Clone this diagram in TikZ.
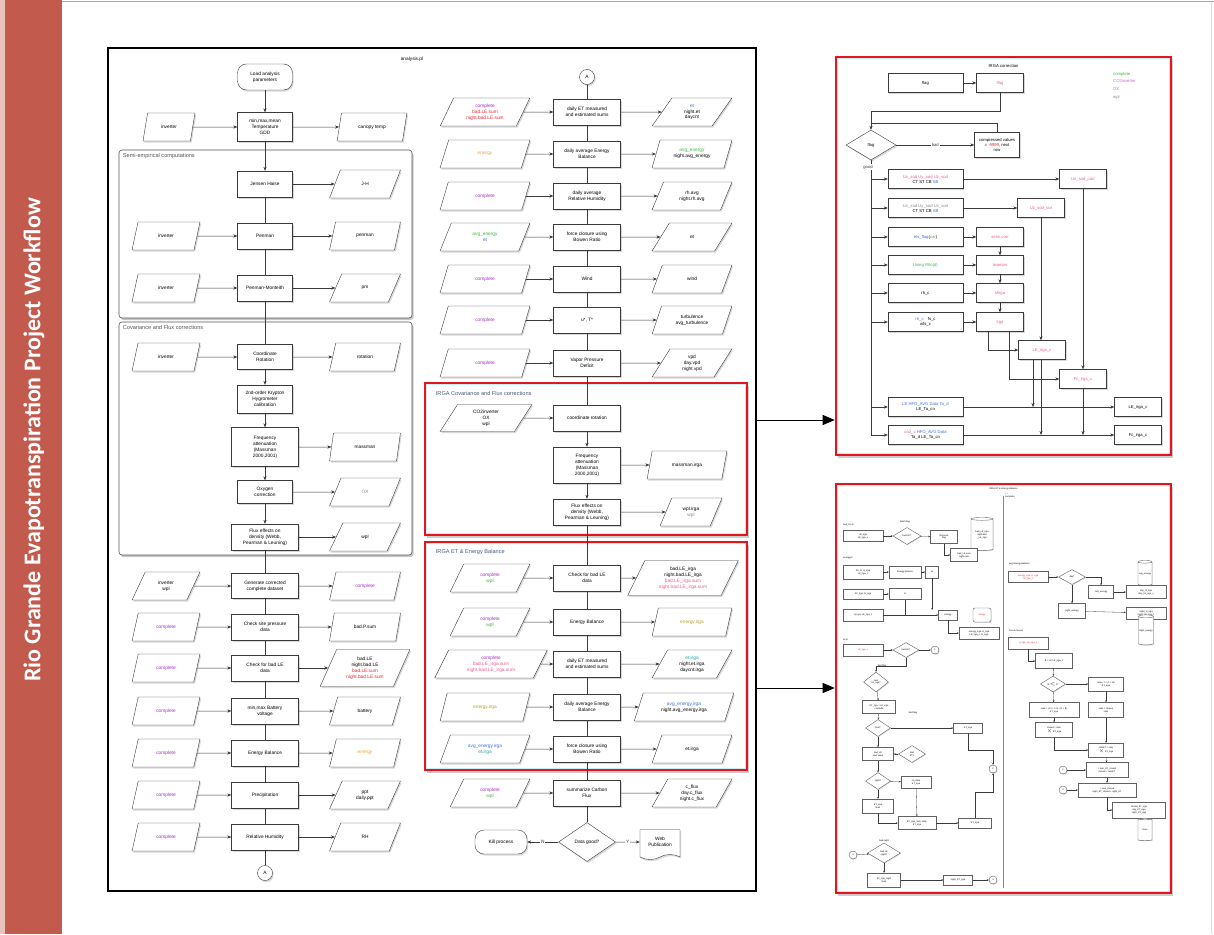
\documentclass[tikz,border=0pt]{standalone}
\usepackage{fontspec}
\setmainfont{Liberation Sans}
\newfontfamily\sidefont{Carlito}
\usepackage{xcolor}
\definecolor{ink}{HTML}{3A3A3A}
\definecolor{barRed}{HTML}{C25A4D}
\definecolor{barEdge}{HTML}{E9C3BD}
\definecolor{frameRed}{HTML}{E3161E}
\definecolor{innerCyan}{HTML}{C4EEF4}
\definecolor{cComplete}{HTML}{A62FC4}
\definecolor{cBad}{HTML}{E8262E}
\definecolor{cEnergy}{HTML}{F2A23A}
\definecolor{cAvg}{HTML}{3DB84A}
\definecolor{cEt}{HTML}{3F6FE0}
\definecolor{cWpl}{HTML}{4BAA45}
\definecolor{cPink}{HTML}{EE5C8E}
\definecolor{cOlive}{HTML}{B3A62A}
\definecolor{cTeal}{HTML}{1FA3A3}
\definecolor{cGrey}{HTML}{8A8A8A}
\definecolor{cSect}{HTML}{555555}
\definecolor{cIrga}{HTML}{4A5A78}
\usepackage{tikz}
\usetikzlibrary{arrows.meta,positioning,shapes.geometric,shapes.symbols,shadows,backgrounds}
\newcommand\flowfont{\fontsize{4.8}{5.9}\selectfont}
\newcommand\corrfont{\fontsize{4.2}{5}\selectfont}
\newcommand\microfont{\fontsize{2.3}{2.8}\selectfont}
\tikzset{>={Stealth[length=4pt,width=3.2pt]},
  dropsh/.style={drop shadow={shadow xshift=1.2pt,shadow yshift=-1.6pt,opacity=.3}},
  proc/.style={draw=ink,fill=white,dropsh,align=center,font=\flowfont,minimum width=55,
    minimum height=26,inner sep=1pt},
  wproc/.style={proc,minimum width=67},
  dat/.style={trapezium,trapezium left angle=64,trapezium right angle=116,trapezium stretches=true,
    draw=ink,fill=white,dropsh,align=center,font=\flowfont,minimum width=68,minimum height=28,inner sep=0pt},
  term/.style={proc,rounded corners=9pt},
  conn/.style={circle,draw=ink,fill=white,dropsh,font=\flowfont,minimum size=15,inner sep=0pt},
  decide/.style={diamond,aspect=1.5,draw=ink,fill=white,dropsh,font=\flowfont,inner sep=0pt,
    minimum width=57,minimum height=39},
  webdoc/.style={tape,tape bend top=none,draw=ink,fill=white,dropsh,align=center,font=\flowfont,
    minimum width=40,minimum height=30,inner sep=1pt},
  sect/.style={draw=cSect,fill=white,rounded corners=3pt,semithick,
    drop shadow={shadow xshift=1.5pt,shadow yshift=-2pt,opacity=.45}},
  secttitle/.style={anchor=north west,font=\fontsize{5.6}{6.5}\selectfont,text=cSect,inner sep=0pt},
  redframe/.style={draw=frameRed,line width=2.6pt,fill=white,
    drop shadow={shadow xshift=1.5pt,shadow yshift=-2.5pt,opacity=.4}},
  bigarr/.style={-{Triangle[length=12pt,width=10pt]},black,line width=.7pt},
  cbox/.style={draw=ink,fill=white,dropsh,align=center,font=\corrfont,minimum width=75,
    minimum height=19,inner sep=1pt},
  sbox/.style={cbox,minimum width=47},
  cdia/.style={diamond,aspect=1.7,draw=ink,fill=white,dropsh,font=\corrfont,inner sep=0pt,
    minimum width=50,minimum height=30},
  mbox/.style={draw=ink!80,fill=white,align=center,font=\microfont,inner sep=.6pt,
    drop shadow={shadow xshift=.6pt,shadow yshift=-.8pt,opacity=.3}},
  mdia/.style={mbox,diamond,aspect=1.6,inner sep=0pt},
  mcirc/.style={mbox,circle,minimum size=8,inner sep=0pt},
  mcyl/.style={mbox,cylinder,shape border rotate=90,aspect=.2},
  mflow/.style={->,>={Stealth[length=2pt,width=1.7pt]},ink,line width=.3pt},
  mlbl/.style={font=\microfont,inner sep=0pt},
  lbl/.style={font=\flowfont,fill=white,inner sep=1pt}}

\begin{document}
\begin{tikzpicture}[x=1pt,y=-1pt]
  \useasboundingbox (0,0) rectangle (1214,934);
  \fill[white] (0,0) rectangle (1214,934);
  \fill[barEdge] (0,0) rectangle (5,934);
  \fill[barRed] (5,0) rectangle (62,934);
  \draw[cBad!55,line width=.8pt] (62,1.5) -- (1214,1.5);
  \draw[cBad!20,line width=.6pt] (1211,2) -- (1211,934);
  \node[rotate=90,text=white,font=\sidefont\bfseries\fontsize{24}{28}\selectfont] (title) at (34,440)
    {Rio Grande Evapotranspiration Project Workflow};

  % analysis.pl frame and its groups
  \node[draw=black,line width=2.2pt,minimum width=648,minimum height=843,inner sep=0pt] (analysis) at (432,469.5) {};
  \node[font=\flowfont] at (412,59) {analysis.pl};
  \node[sect,minimum width=293,minimum height=168] (semi) at (265.5,234) {};
  \node[secttitle] at ([xshift=4pt,yshift=-4pt]semi.north west) {Semi-empirical computations};
  \node[sect,minimum width=293,minimum height=233] (cov) at (265.5,438.5) {};
  \node[secttitle] at ([xshift=4pt,yshift=-4pt]cov.north west) {Covariance and Flux corrections};
  \node[redframe,minimum width=322,minimum height=152] (irgacov) at (586,459) {};
  \draw[innerCyan,line width=.6pt] ([shift={(3,3)}]irgacov.north west) rectangle ([shift={(-3,-3)}]irgacov.south east);
  \node[secttitle,text=cIrga] at ([xshift=12pt,yshift=-10pt]irgacov.north west) {IRGA Covariance and Flux corrections};
  \node[redframe,minimum width=322,minimum height=228] (irgaet) at (586,656) {};
  \draw[innerCyan,line width=.6pt] ([shift={(3,3)}]irgaet.north west) rectangle ([shift={(-3,-3)}]irgaet.south east);
  \node[secttitle,text=cIrga] at ([xshift=12pt,yshift=-9pt]irgaet.north west) {IRGA ET \& Energy Balance};

  % left column
  \node[term] (load) at (265,77) {Load analysis\\parameters};
  \node[proc,minimum height=29] (temp) at (265,127) {min,max,mean\\Temperature\\GDD};
  \node[dat,minimum width=52] (tempin) at (169,127) {inverter};
  \node[dat,minimum width=70] (tempout) at (372,127) {canopy temp};
  \node[proc] (jh) at (265,184) {Jensen Haise};
  \node[dat,minimum width=71] (jhout) at (365,184) {J-H};
  \node[proc] (pen) at (265,236) {Penman};
  \node[dat] (penin) at (166,236) {inverter};
  \node[dat,minimum width=71] (penout) at (365,236) {penman};
  \node[proc] (pm) at (265,288) {Penman-Monteith};
  \node[dat] (pmin) at (166,288) {inverter};
  \node[dat,minimum width=71] (pmout) at (365,288) {pm};
  \node[proc,minimum height=25] (rot) at (265,357) {Coordinate\\Rotation};
  \node[dat] (rotin) at (166,357) {inverter};
  \node[dat,minimum width=71] (rotout) at (365,357) {rotation};
  \node[proc,minimum height=28] (kh) at (265,399) {2nd-order Krypton\\Hygrometer\\calibration};
  \node[wproc,minimum height=39] (freq) at (265,447) {Frequency\\attenuation\\(Massman\\2000,2001)};
  \node[dat,minimum width=71] (freqout) at (365,447) {massman};
  \node[proc,minimum height=23] (oxy) at (265,492) {Oxygen\\correction};
  \node[dat,minimum width=71] (oxyout) at (365,492) {\textcolor{cGrey}{OX}};
  \node[wproc] (webb) at (265,537) {Flux effects on\\density (Webb,\\Pearman \& Leuning)};
  \node[dat,minimum width=71] (webbout) at (365,537) {wpl};
  \node[wproc,minimum height=25] (gen) at (265,586) {Generate corrected\\complete dataset};
  \node[dat] (genin) at (166,586) {inverter\\wpl};
  \node[dat,minimum width=71] (genout) at (365,586) {\textcolor{cComplete}{complete}};
  \node[wproc] (pres) at (265,627) {Check site pressure\\data};
  \node[dat] (presin) at (166,627) {\textcolor{cComplete}{complete}};
  \node[dat,minimum width=71] (presout) at (365,627) {bad.P.sum};
  \node[wproc] (badle) at (265,668) {Check for bad LE\\data};
  \node[dat] (badlein) at (166,668) {\textcolor{cComplete}{complete}};
  \node[dat,minimum width=90,minimum height=37] (badleout) at (365,668)
    {bad.LE\\night.bad.LE\\\textcolor{cBad}{bad.LE.sum}\\\textcolor{cBad}{night.bad.LE.sum}};
  \node[wproc] (batt) at (265,711) {min,max Battery\\voltage};
  \node[dat] (battin) at (166,711) {\textcolor{cComplete}{complete}};
  \node[dat,minimum width=71] (battout) at (365,711) {battery};
  \node[wproc] (eb) at (265,753) {Energy Balance};
  \node[dat] (ebin) at (166,753) {\textcolor{cComplete}{complete}};
  \node[dat,minimum width=71] (ebout) at (365,753) {\textcolor{cEnergy}{energy}};
  \node[wproc] (ppt) at (265,795) {Precipitation};
  \node[dat] (pptin) at (166,795) {\textcolor{cComplete}{complete}};
  \node[dat,minimum width=71] (pptout) at (365,795) {ppt\\daily.ppt};
  \node[wproc] (rh) at (265,837) {Relative Humidity};
  \node[dat] (rhin) at (166,837) {\textcolor{cComplete}{complete}};
  \node[dat,minimum width=71] (rhout) at (365,837) {RH};
  \node[conn] (toa) at (265,873) {A};

  % middle column
  \node[conn] (froma) at (587,77) {A};
  \node[wproc] (etsum) at (587,112) {daily ET measured\\and estimated sums};
  \node[dat,minimum width=90] (etsumin) at (485,112)
    {\textcolor{cComplete}{complete}\\\textcolor{cBad}{bad.LE.sum}\\\textcolor{cBad}{night.bad.LE.sum}};
  \node[dat,minimum width=80] (etsumout) at (692,112) {\textcolor{cEt}{et}\\night.et\\daycnt};
  \node[wproc] (avgeb) at (587,154) {daily average Energy\\Balance};
  \node[dat,minimum width=90] (avgebin) at (485,154) {\textcolor{cEnergy}{energy}};
  \node[dat,minimum width=80] (avgebout) at (692,154) {\textcolor{cAvg}{avg\_energy}\\night.avg\_energy};
  \node[wproc] (avgrh) at (587,196) {daily average\\Relative Humidity};
  \node[dat,minimum width=90] (avgrhin) at (485,196) {\textcolor{cComplete}{complete}};
  \node[dat,minimum width=80] (avgrhout) at (692,196) {rh.avg\\night.rh.avg};
  \node[wproc] (bowen) at (587,237) {force closure using\\Bowen Ratio};
  \node[dat,minimum width=90] (bowenin) at (485,237) {\textcolor{cAvg}{avg\_energy}\\\textcolor{cEt}{et}};
  \node[dat,minimum width=80] (bowenout) at (692,237) {et};
  \node[wproc] (wind) at (587,279) {Wind};
  \node[dat,minimum width=90] (windin) at (485,279) {\textcolor{cComplete}{complete}};
  \node[dat,minimum width=80] (windout) at (692,279) {wind};
  \node[wproc] (turb) at (587,320) {u*, T*};
  \node[dat,minimum width=90] (turbin) at (485,320) {\textcolor{cComplete}{complete}};
  \node[dat,minimum width=80] (turbout) at (692,320) {turbulence\\avg\_turbulence};
  \node[wproc] (vpd) at (587,363) {Vapor Pressure\\Deficit};
  \node[dat,minimum width=90] (vpdin) at (485,363) {\textcolor{cComplete}{complete}};
  \node[dat,minimum width=80] (vpdout) at (692,363) {vpd\\day.vpd\\night.vpd};
  \node[wproc] (irot) at (587,418) {coordinate rotation};
  \node[dat,minimum width=92,minimum height=27] (irotin) at (486,418) {CO2inverter\\OX\\wpl};
  \node[wproc,minimum height=36] (ifreq) at (587,465) {Frequency\\attenuation\\(Massman\\2000,2001)};
  \node[dat,minimum width=80] (ifreqout) at (687,465) {massman.irga};
  \node[wproc] (iwebb) at (587,512) {Flux effects on\\density (Webb,\\Pearman \& Leuning)};
  \node[dat,minimum width=62] (iwebbout) at (691,512) {wpl.irga\\\textcolor{cGrey}{wpl}};
  \node[wproc] (ibad) at (587,578) {Check for bad LE\\data};
  \node[dat,minimum width=80] (ibadin) at (490,578) {\textcolor{cComplete}{complete}\\\textcolor{cWpl}{wpl}};
  \node[dat,minimum width=111,minimum height=35] (ibadout) at (683,578)
    {bad.LE\_irga\\night.bad.LE\_irga\\\textcolor{cPink}{bad.LE\_irga.sum}\\\textcolor{cPink}{night.bad.LE\_irga.sum}};
  \node[wproc] (ieb) at (587,622) {Energy Balance};
  \node[dat,minimum width=80] (iebin) at (490,622) {\textcolor{cComplete}{complete}\\\textcolor{cWpl}{wpl}};
  \node[dat,minimum width=80] (iebout) at (692,622) {\textcolor{cOlive}{energy.irga}};
  \node[wproc] (iet) at (587,664) {daily ET measured\\and estimated sums};
  \node[dat,minimum width=113] (ietin) at (491,664)
    {\textcolor{cComplete}{complete}\\\textcolor{cPink}{bad.LE\_irga.sum}\\\textcolor{cPink}{night.bad.LE\_irga.sum}};
  \node[dat,minimum width=80] (ietout) at (692,664) {\textcolor{cTeal}{et.irga}\\night.et.irga\\daycnt.irga};
  \node[wproc] (iavg) at (587,707) {daily average Energy\\Balance};
  \node[dat,minimum width=90] (iavgin) at (485,707) {\textcolor{cOlive}{energy.irga}};
  \node[dat,minimum width=100] (iavgout) at (684,707) {\textcolor{cEt}{avg\_energy.irga}\\night.avg\_energy.irga};
  \node[wproc] (ibowen) at (587,749) {force closure using\\Bowen Ratio};
  \node[dat,minimum width=90] (ibowenin) at (485,749) {\textcolor{cEt}{avg\_energy.irga}\\\textcolor{cTeal}{et.irga}};
  \node[dat,minimum width=80] (ibowenout) at (692,749) {et.irga};
  \node[wproc] (carbon) at (587,793) {summarize Carbon\\Flux};
  \node[dat,minimum width=80] (carbonin) at (490,793) {\textcolor{cComplete}{complete}\\\textcolor{cWpl}{wpl}};
  \node[dat,minimum width=80] (carbonout) at (692,793) {c\_flux\\day.c\_flux\\night.c\_flux};
  \node[decide] (dgood) at (587,842) {Data good?};
  \node[term,minimum width=52,minimum height=24] (kill) at (501,842) {Kill process};
  \node[webdoc] (web) at (660,842) {Web\\Publication};

  \begin{scope}[ink,line width=.5pt]
  \draw[->](load)--(temp);\draw[->](tempin)--(temp);\draw[->](temp)--(tempout);\draw[->](temp)--(jh);
  \draw[->](jh)--(jhout);\draw(jh)--(pen);\draw[->](penin)--(pen);\draw[->](pen)--(penout);
  \draw(pen)--(pm);\draw[->](pmin)--(pm);\draw[->](pm)--(pmout);\draw(pm)--(rot);
  \draw[->](rotin)--(rot);\draw[->](rot)--(rotout);\draw[->](rot)--(kh);\draw[->](kh)--(freq);
  \draw[->](freq)--(freqout);\draw[->](freq)--(oxy);\draw[->](oxy)--(oxyout);\draw[->](oxy)--(webb);
  \draw[->](webb)--(webbout);\draw(webb)--(gen);\draw[->](genin)--(gen);\draw[->](gen)--(genout);
  \draw(gen)--(pres);\draw[->](presin)--(pres);\draw[->](pres)--(presout);\draw(pres)--(badle);
  \draw[->](badlein)--(badle);\draw[->](badle)--(badleout);\draw(badle)--(batt);\draw[->](battin)--(batt);
  \draw[->](batt)--(battout);\draw(batt)--(eb);\draw[->](ebin)--(eb);\draw[->](eb)--(ebout);
  \draw(eb)--(ppt);\draw[->](pptin)--(ppt);\draw[->](ppt)--(pptout);\draw(ppt)--(rh);
  \draw[->](rhin)--(rh);\draw[->](rh)--(rhout);\draw(rh)--(toa);

  \draw(froma)--(etsum);\draw[->](etsumin)--(etsum);\draw[->](etsum)--(etsumout);\draw(etsum)--(avgeb);
  \draw[->](avgebin)--(avgeb);\draw[->](avgeb)--(avgebout);\draw(avgeb)--(avgrh);\draw[->](avgrhin)--(avgrh);
  \draw[->](avgrh)--(avgrhout);\draw(avgrh)--(bowen);\draw[->](bowenin)--(bowen);\draw[->](bowen)--(bowenout);
  \draw(bowen)--(wind);\draw[->](windin)--(wind);\draw[->](wind)--(windout);\draw(wind)--(turb);
  \draw[->](turbin)--(turb);\draw[->](turb)--(turbout);\draw(turb)--(vpd);\draw[->](vpdin)--(vpd);
  \draw[->](vpd)--(vpdout);\draw(vpd)--(irot);\draw[->](irotin)--(irot);\draw[->](irot)--(ifreq);
  \draw[->](ifreq)--(ifreqout);\draw[->](ifreq)--(iwebb);\draw[->](iwebb)--(iwebbout);\draw(iwebb)--(ibad);
  \draw[->](ibadin)--(ibad);\draw[->](ibad)--(ibadout);\draw(ibad)--(ieb);\draw[->](iebin)--(ieb);
  \draw[->](ieb)--(iebout);\draw(ieb)--(iet);\draw[->](ietin)--(iet);\draw[->](iet)--(ietout);
  \draw(iet)--(iavg);\draw[->](iavgin)--(iavg);\draw[->](iavg)--(iavgout);\draw(iavg)--(ibowen);
  \draw[->](ibowenin)--(ibowen);\draw[->](ibowen)--(ibowenout);\draw(ibowen)--(carbon);
  \draw[->](carbonin)--(carbon);\draw[->](carbon)--(carbonout);\draw(carbon)--(dgood);
  \draw[->](dgood)--node[lbl]{N}(kill);\draw[->](dgood)--node[lbl]{Y}(web);
  \end{scope}

  % links to the detail panels
  \node[redframe,minimum width=335,minimum height=398] (corr) at (1003.5,256) {};
  \draw[innerCyan,line width=.6pt] ([shift={(3,3)}]corr.north west) rectangle ([shift={(-3,-3)}]corr.south east);
  \node[redframe,minimum width=335,minimum height=409] (etdet) at (1003.5,688.5) {};
  \draw[innerCyan,line width=.6pt] ([shift={(3,3)}]etdet.north west) rectangle ([shift={(-3,-3)}]etdet.south east);
  \coordinate (covlink) at (analysis.east |- 0,420);
  \coordinate (etlink) at (analysis.east |- 0,688);
  \draw[bigarr] (covlink) -- (covlink -| corr.west);
  \draw[bigarr] (etlink) -- (etlink -| etdet.west);

  % IRGA correction
  \node[font=\corrfont] at (1003.5,66) {IRGA correction};
  \node[anchor=north west,align=left,inner sep=0pt,font=\fontsize{4.2}{7.6}\selectfont] (legend) at (1113,72)
    {\textcolor{cAvg}{complete}\\\textcolor{cComplete!70}{CO2inverter}\\\textcolor{cGrey}{OX}\\\textcolor{cGrey}{wpl}};
  \node[cbox] (flagin) at (925.5,83) {flag};
  \node[sbox] (flagred) at (1000,83) {\textcolor{cPink}{flag}};
  \node[cdia] (dflag) at (871,145) {flag};
  \node[sbox,minimum width=45,minimum height=25] (comp) at (997,145)
    {compressed values\\= \textcolor{cBad}{-9999}, next\\row};
  \node[cbox] (c1) at (925.5,179) {\textcolor{cPink}{Ux\_sod Uy\_sod Uz\_sod}\\CT ST CB \textcolor{cEt}{SB}};
  \node[cbox] (c2) at (925.5,208) {\textcolor{cGrey}{Ux\_sod Uy\_sod Uz\_sod}\\CT ST CB \textcolor{cEt}{SB}};
  \node[cbox] (c3) at (925.5,237) {\textcolor{cEt}{ets\_flag}(\textcolor{cAvg}{var})};
  \node[cbox] (c4) at (925.5,265) {\textcolor{cWpl}{Using \textcolor{cAvg}{Rho(d)}}};
  \node[cbox] (c5) at (925.5,293) {rh\_c};
  \node[cbox] (c6) at (925.5,322) {\textcolor{cEt}{rh\_c}\quad fs\_c\\wfs\_c};
  \node[cbox] (c7) at (925.5,407) {\textcolor{cEt}{LE HFO\_AVG Data Ta\_d}\\LE\_Ta\_cn};
  \node[cbox] (c8) at (925.5,435) {\textcolor{cPink}{co2\_c} \textcolor{cEt}{HFO\_AVG Data}\\Ta\_d LE\_Ta\_cn};
  \node[sbox] (d1) at (1083,179) {\textcolor{cPink}{Ux\_sod\_corr}};
  \node[sbox] (d2) at (1041,208) {\textcolor{cPink}{Uz\_sod\_cor}};
  \node[sbox] (d3) at (1000,237) {\textcolor{cPink}{sens.corr}};
  \node[sbox] (d4) at (1000,265) {\textcolor{cPink}{lwamps}};
  \node[sbox] (d5) at (1000,293) {\textcolor{cPink}{sfirga}};
  \node[sbox] (d6) at (1000,322) {\textcolor{cPink}{irga}};
  \node[sbox] (d7) at (1042,350) {\textcolor{cPink}{LE\_irga\_c}};
  \node[sbox] (d8) at (1083,379) {\textcolor{cPink}{Fc\_irga\_c}};
  \node[sbox] (e1) at (1138,407) {LE\_irga\_c};
  \node[sbox] (e2) at (1138,435) {Fc\_irga\_c};

  \begin{scope}[ink,line width=.45pt]
  \draw[->](flagin)--(flagred);\draw[->](flagred.south)--++(0,19)-|(dflag.north);
  \draw(comp.north)|-(dflag.north|-0,123);\draw[->](dflag)--node[lbl,font=\corrfont]{bad}(comp);
  \draw(dflag.south)--(dflag.south|-c8.west);
  \node[lbl,font=\corrfont] at (868,167) {good};
  \draw[->](dflag.south|-c1.west)--(c1);\draw[->](dflag.south|-c2.west)--(c2);
  \draw[->](dflag.south|-c3.west)--(c3);\draw[->](dflag.south|-c4.west)--(c4);
  \draw[->](dflag.south|-c5.west)--(c5);\draw[->](dflag.south|-c6.west)--(c6);
  \draw[->](dflag.south|-c7.west)--(c7);\draw[->](dflag.south|-c8.west)--(c8);
  \draw[->](c1)--(d1);\draw[->](c2)--(d2);\draw[->](c3)--(d3);\draw[->](c4)--(d4);
  \draw[->](c5)--(d5);\draw[->](c6)--(d6);\draw[->](d3)--(d4);\draw[->](d4)--(d5);\draw[->](d5)--(d6);
  \draw[->](d1)--(d8);\draw[->](d2.south)--(d7.north-|d2.south);
  \draw[->]([xshift=-12pt]d6.south)|-(d7.west);\draw[->]([xshift=9pt]d6.south)|-(d8.west);
  \draw[->]([xshift=-9pt]d7.south)--([xshift=-9pt]d7.south|-c7.east);
  \draw[->]([xshift=-1pt]d7.south)--([xshift=-1pt]d7.south|-c8.east);
  \draw[->](d8.south)--(d8.south|-c8.east);
  \draw[->](c7)--(e1);\draw[->](c8)--(e2);
  \end{scope}

  % IRGA ET & Energy Balance detail
  \node[mlbl] at (1003.5,489) {IRGA ET \& Energy Balance};
  \draw[ink!60,line width=.4pt] (1003,496) -- (1003,888);
  \node[mlbl,anchor=north west,align=left] at (1005,493) {\textcolor{cTeal}{c.c}\\complete};
  \node[mlbl,anchor=west] at (843,525) {bad\_LE.pl};
  \node[mbox,minimum width=40,minimum height=11] (b1) at (863,536) {LE\_irga\\LE\_irga\_c};
  \node[mdia,minimum width=28,minimum height=17] (b2) at (907,536) {bad LE?};
  \node[mlbl] at (905,522) {batch.flag};
  \node[mbox,minimum width=27,minimum height=13] (b3) at (944,537) {Remove\\flag};
  \node[mcyl,minimum width=22,minimum height=33] (b4) at (982,535) {bad\_LE\_irga\\night.bad\\\_LE\_irga};
  \node[mbox,minimum width=27,minimum height=13] (b5) at (964,555) {bad\_LE.sum\\night.sum};
  \node[mlbl,anchor=west] at (843,558) {energy.pl};
  \node[mbox,minimum width=40,minimum height=14] (b6) at (863,572) {Rn, G, H\_irga\\LE\_irga\_c};
  \node[mbox,minimum width=32,minimum height=12] (b7) at (905,572) {Energy balance};
  \node[mbox,minimum width=13,minimum height=12] (b8) at (932,572) {et};
  \node[mbox,minimum width=40,minimum height=10] (b9) at (863,594) {Rn\_irga, G\_irga};
  \node[mbox,minimum width=32,minimum height=11] (b10) at (905,594) {G};
  \node[mbox,minimum width=40,minimum height=12] (b11) at (863,615) {H\_irga, LE\_irga\_c};
  \node[mbox,minimum width=19,minimum height=10] (b12) at (948,615) {energy};
  \node[mbox,rounded corners=2pt,minimum width=18,minimum height=14] (b13) at (982,615) {\textcolor{cBad}{energy}};
  \node[mbox,minimum width=40,minimum height=12] (b14) at (979,633) {energy\_irga, H\_irga\\LE\_irga\_c, G\_irga};
  \node[mlbl,anchor=west] at (843,640) {et.pl};
  \node[mbox,minimum width=40,minimum height=12] (b15) at (863,650) {\textcolor{cBad}{LE\_irga\_c}};
  \node[mdia,minimum width=26,minimum height=15] (b16) at (906,650) {bad LE?};
  \node[mcirc] (b17) at (935,650) {1};
  \node[mlbl] at (882,666) {bad.flag};
  \node[mdia,minimum width=25,minimum height=20] (b18) at (876,682) {next\\LE\_irga?};
  \node[mbox,minimum width=33,minimum height=13] (b19) at (879,707) {ET\_irga = LE\_irga\\/ lambda};
  \node[mlbl] at (913,713) {bad.flag};
  \node[mdia,minimum width=25,minimum height=17] (b20) at (878,728) {bad?};
  \node[mbox,minimum width=29,minimum height=10] (b21) at (968,728) {ET\_irga};
  \node[mbox,minimum width=31,minimum height=13] (b22) at (878,754) {bad\_LE\\next value};
  \node[mdia,minimum width=27,minimum height=17] (b23) at (912,754) {bad\\ET?};
  \node[mcirc] (b24) at (993,769) {2};
  \node[mdia,minimum width=25,minimum height=17] (b25) at (878,781) {night?};
  \node[mbox,minimum width=30,minimum height=12] (b26) at (916,782) {no\_data\\ET\_irga};
  \node[mbox,minimum width=31,minimum height=14] (b27) at (878,806) {ET\_irga\\NaN};
  \node[mbox,minimum width=38,minimum height=13] (b28) at (917,823) {ET\_irga\_sum, daily\\ET\_irga};
  \node[mbox,minimum width=33,minimum height=10] (b29) at (975,823) {ET\_irga};
  \node[mcirc] (b30) at (853,855) {3};
  \node[mlbl] at (884,841) {bad.night};
  \node[mdia,minimum width=33,minimum height=20] (b31) at (884,853) {bad LE\\night?};
  \node[mbox,minimum width=33,minimum height=14] (b32) at (884,880) {ET\_irga\_night\\NaN};
  \node[mbox,minimum width=29,minimum height=10] (b33) at (958,880) {night\_ET\_irga};
  \node[mcirc] (b34) at (993,880) {4};

  \node[mlbl,anchor=west] at (1009,564) {avg.Energy.Balance};
  \node[mbox,minimum width=40,minimum height=11] (r1) at (1028,577) {\textcolor{cBad}{energy\_irga, H\_irga}\\\textcolor{cBad}{LE\_irga\_c}};
  \node[mdia,minimum width=27,minimum height=15] (r2) at (1072,577) {day?};
  \node[mcyl,minimum width=14,minimum height=25] (r3) at (1145,574) {avg\_energy};
  \node[mbox,minimum width=25,minimum height=13] (r4) at (1101,592) {calc\_energy};
  \node[mbox,minimum width=40,minimum height=13] (r5) at (1146,592) {day\_H\_irga\\day\_LE\_irga\_c};
  \node[mbox,minimum width=27,minimum height=15] (r6) at (1072,611) {night\_energy};
  \node[mbox,minimum width=40,minimum height=12] (r7) at (1146,613) {night\_H\_irga\\night\_LE\_irga\_c};
  \node[mcyl,minimum width=15,minimum height=30] (r8) at (1146,631) {night\_energy};
  \node[mlbl,anchor=west] at (1009,631) {Force closure};
  \node[mbox,minimum width=40,minimum height=12] (r9) at (1028,643) {\textcolor{cBad}{H\_irga, LE\_irga\_c}};
  \node[mbox,minimum width=37,minimum height=15] (r10) at (1054,661) {B = H / LE\_irga\_c};
  \node[mdia,minimum width=25,minimum height=16] (r11) at (1053,684) {B $<$ 0?};
  \node[mbox,minimum width=35,minimum height=14] (r12) at (1106,684) {ratio = 1 / (1 + B)\\ET\_irga};
  \node[mbox,minimum width=50,minimum height=15] (r13) at (1054,710) {ratio = (1.0 + 1.0) / (1 + B)\\ET\_irga};
  \node[mbox,minimum width=35,minimum height=15] (r14) at (1106,710) {ratio = closure\\ratio};
  \node[mbox,minimum width=37,minimum height=15] (r15) at (1054,730) {closed = ratio\\$\times$ ET\_irga};
  \node[mbox,minimum width=35,minimum height=14] (r16) at (1106,750) {ratioET = ratio\\$\times$ ET\_irga};
  \node[mcirc] (r17) at (1063,770) {2};
  \node[mbox,minimum width=42,minimum height=15] (r18) at (1107,770) {= sum\_ET\_closed\\closed + ratioET};
  \node[mcirc] (r19) at (1063,790) {4};
  \node[mbox,minimum width=58,minimum height=14] (r20) at (1107,790) {= sum\_closed\\night\_ET\_closed + night\_ET};
  \node[mbox,minimum width=53,minimum height=16] (r21) at (1139,810) {closed\_ET\_irga\\day\_ET\_irga\\night\_ET\_irga};
  \node[mcyl,minimum width=14,minimum height=22] (r22) at (1145,830) {store};

  \draw[mflow](b1)--(b2);\draw[mflow](b2)--(b3);\draw[mflow](b3.south)|-(b5.west);
  \draw[mflow](b6)--(b7);\draw[mflow](b7)--(b8);\draw[mflow](b9)--(b10);
  \draw[mflow](b11)--(b12);\draw[mflow](b8.south)--(b8.south|-b12.north);
  \draw[ink,line width=.3pt](b10.south)--(b10.south|-b11.east);\draw[mflow](b12.south)|-(b14.west);
  \draw[mflow](b15)--(b16);\draw[mflow](b16)--(b17);\draw[mflow](b16.south)--++(0,8)-|(b18.north);
  \draw[mflow](b18)--(b19);\draw[mflow](b19)--(b20);\draw[mflow](b20)--(b21);
  \draw[mflow](b20)--(b22);\draw[mflow](b23)--(b22);\draw[mflow](b21.south)--++(0,17)-|(b24.north);
  \draw[mflow](b22)--(b25);\draw[mflow](b25)--(b26);\draw[mflow](b25)--(b27);
  \draw[mflow](b27.south)|-(b28.west);\draw[mflow](b26)--(b28);\draw[mflow](b28)--(b29);
  \draw[mflow](b29.north)--++(0,-26)-|(b24.south);
  \draw[mflow](b30)--(b31);\draw[mflow](b31)--(b32);\draw[mflow](b32)--(b33);\draw[mflow](b33)--(b34);
  \draw[mflow](r1)--(r2);\draw[mflow](r2.east)-|(r4.north);\draw[mflow](r4)--(r5);
  \draw[mflow](r2)--(r6);\draw[mflow](r6)--(r7);
  \draw[mflow](r9.south)|-(r10.west);\draw[mflow](r10)--(r11);\draw[mflow](r11)--(r12);
  \draw[mflow](r11)--(r13);\draw[mflow](r12)--(r14);\draw[mflow](r13)--(r15);
  \draw[mflow](r15.south)|-(r16.west);\draw[mflow](r14)--(r16);\draw[mflow](r16)--(r18);
  \draw[mflow](r17)--(r18);\draw[mflow](r18)--(r20);\draw[mflow](r19)--(r20);
  \draw[mflow](r20.south)|-(r21.west);
\end{tikzpicture}
\end{document}
